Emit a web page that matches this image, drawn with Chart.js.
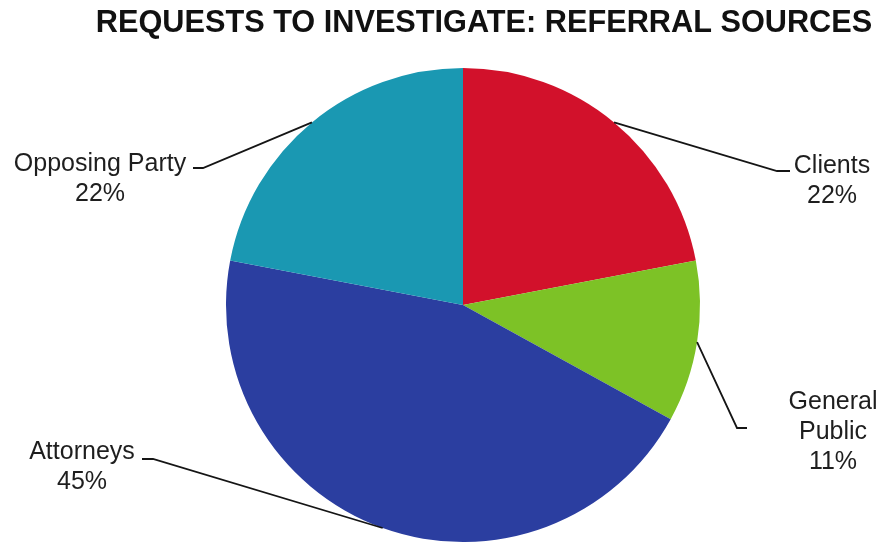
<!DOCTYPE html>
<html>
<head>
<meta charset="utf-8">
<title>Requests to Investigate: Referral Sources</title>
<script src="https://cdn.jsdelivr.net/npm/chart.js@4/dist/chart.umd.min.js"></script>
<style>
    html, body { margin: 0; padding: 0; background: #fff; }
    #wrap { width: 883px; height: 543px; position: relative; }
</style>
</head>
<body>
<div id="wrap"><canvas id="referralChart" width="883" height="543"></canvas></div>
<script>
// Referral source shares, clockwise from 12 o'clock
const sources = ['Clients', 'General Public', 'Attorneys', 'Opposing Party'];
const shares = [22, 11, 45, 22];
const sliceColors = ['#d2112b', '#7dc226', '#2b3ea0', '#1a98b2'];

const chartTitle = 'REQUESTS TO INVESTIGATE: REFERRAL SOURCES';

// Where each callout sits: elbow of the leader line, end of its short tail,
// and the centre of the first text line
const callouts = [
    { elbow: [777, 171], tail: [790, 171], text: [832, 166], lines: ['Clients'] },
    { elbow: [737, 428], tail: [747, 428], text: [833, 402], lines: ['General', 'Public'] },
    { elbow: [153, 459], tail: [142, 459], text: [82, 452], lines: ['Attorneys'] },
    { elbow: [203, 168], tail: [193, 168], text: [100, 164], lines: ['Opposing Party'] }
];

const LABEL_FONT = '25px "Liberation Sans", Arial, sans-serif';
const LINE_GAP = 30;

// Title plus leader lines and labels, anchored on each arc's mid angle
const calloutPlugin = {
    id: 'callouts',
    afterDraw(chart) {
        const ctx = chart.ctx;
        ctx.save();

        ctx.fillStyle = '#111';
        ctx.font = 'bold 30.7px "Liberation Sans", Arial, sans-serif';
        ctx.textAlign = 'center';
        ctx.textBaseline = 'middle';
        ctx.fillText(chartTitle, 484, 24);

        const meta = chart.getDatasetMeta(0);
        meta.data.forEach((arc, i) => {
            const p = arc.getProps(['x', 'y', 'startAngle', 'endAngle', 'outerRadius'], true);
            const mid = (p.startAngle + p.endAngle) / 2;
            const sx = p.x + Math.cos(mid) * p.outerRadius;
            const sy = p.y + Math.sin(mid) * p.outerRadius;
            const c = callouts[i];

            ctx.strokeStyle = '#151515';
            ctx.lineWidth = 1.8;
            ctx.beginPath();
            ctx.moveTo(sx, sy);
            ctx.lineTo(c.elbow[0], c.elbow[1]);
            ctx.lineTo(c.tail[0], c.tail[1]);
            ctx.stroke();

            ctx.fillStyle = '#1e1e1e';
            ctx.font = LABEL_FONT;
            const rows = c.lines.concat([shares[i] + '%']);
            rows.forEach((row, k) => {
                ctx.fillText(row, c.text[0], c.text[1] + k * LINE_GAP);
            });
        });

        ctx.restore();
    }
};

new Chart(document.getElementById('referralChart'), {
    type: 'pie',
    data: {
        labels: sources,
        datasets: [{
            data: shares,
            backgroundColor: sliceColors,
            borderWidth: 0,
            hoverOffset: 0
        }]
    },
    options: {
        responsive: false,
        animation: false,
        devicePixelRatio: 1,
        layout: {
            padding: { top: 68, bottom: 1, left: 150, right: 107 }
        },
        plugins: {
            legend: { display: false },
            title: { display: false },
            tooltip: { enabled: false }
        }
    },
    plugins: [calloutPlugin]
});
</script>
</body>
</html>
